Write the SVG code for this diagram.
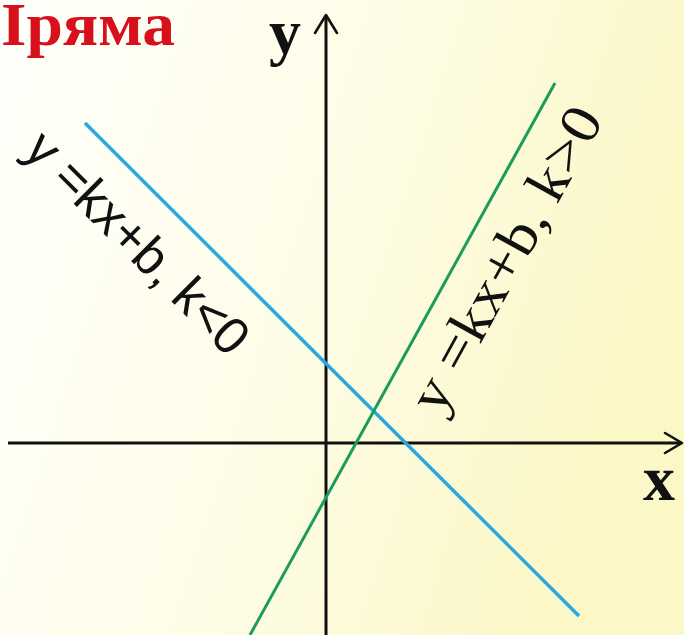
<svg xmlns="http://www.w3.org/2000/svg" width="684" height="635" viewBox="0 0 684 635">
<defs>
<linearGradient id="bg" x1="0" y1="0" x2="1" y2="0.3">
<stop offset="0" stop-color="#fffffb"/>
<stop offset="0.5" stop-color="#fefde9"/>
<stop offset="1" stop-color="#fbf7c6"/>
</linearGradient>
<style>
.axis{stroke:#111;stroke-width:3;fill:none}
.head{stroke:#111;stroke-width:2.6;fill:none;stroke-linecap:round;stroke-linejoin:round}
.serifb{font-family:"Liberation Serif","Times New Roman",serif;font-weight:bold;fill:#111}
.lbl{fill:#111}
</style>
</defs>
<rect width="684" height="635" fill="url(#bg)"/>
<g id="title">
<text x="1" y="45" font-family="Liberation Serif, Times New Roman, serif" font-weight="bold" font-size="62" fill="#d7101c" textLength="174" lengthAdjust="spacingAndGlyphs">Іряма</text>
</g>
<g id="connectors">
<line class="axis" x1="8" y1="443" x2="681" y2="443"/>
<polyline class="head" points="665,433 682,443 665,453"/>
<line class="axis" x1="326" y1="17" x2="326" y2="635"/>
<polyline class="head" points="315,33 326,15 337,33"/>
<line x1="85" y1="123" x2="579" y2="616" stroke="#29a8e0" stroke-width="3.5"/>
<line x1="555" y1="83" x2="250" y2="635" stroke="#1b9b5c" stroke-width="3"/>
</g>
<g id="label-y">
<text class="serifb" x="269" y="53" font-size="64">y</text>
</g>
<g id="label-x">
<text class="serifb" x="643" y="500" font-size="64">x</text>
</g>
<g id="label-neg">
<text class="lbl" transform="translate(22,152) rotate(45)" font-family="Liberation Sans, Arial, sans-serif" font-size="52" textLength="292" lengthAdjust="spacingAndGlyphs">y =kx+b, k&lt;0</text>
</g>
<g id="label-pos">
<text class="lbl" transform="translate(440,417) rotate(-61.1)" font-family="Liberation Serif, Times New Roman, serif" font-size="57" textLength="340" lengthAdjust="spacingAndGlyphs">y =kx+b, k&gt;0</text>
</g>
</svg>
